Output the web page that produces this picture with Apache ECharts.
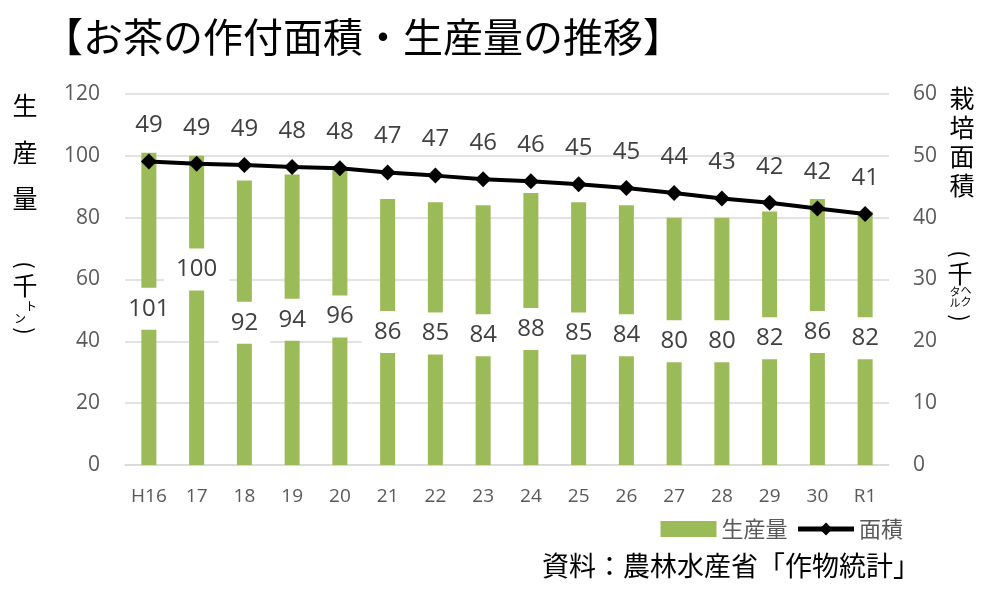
<!DOCTYPE html>
<html><head><meta charset="utf-8">
<script src="https://cdn.jsdelivr.net/npm/echarts@6/dist/echarts.min.js"></script>
<style>html,body{margin:0;padding:0;background:#fff}#c{width:992px;height:596px}</style>
</head><body><div id="c"></div>
<script>
const categories = ['H16','17','18','19','20','21','22','23','24','25','26','27','28','29','30','R1'];
const production = [101,100,92,94,96,86,85,84,88,85,84,80,80,82,86,82];
const area = [49.1,48.7,48.5,48.2,48.0,47.3,46.8,46.2,45.9,45.4,44.8,44.0,43.1,42.4,41.5,40.6];
const leftTicks = [0,120,20];
const rightTicks = [0,60,10];

const FONT = '"Noto Sans CJK JP","Noto Sans",sans-serif';
const NUMFONT = '"Open Sans","Noto Sans",sans-serif';

const chart = echarts.init(document.getElementById('c'));
const barData = production.map((v,i)=> i===1 ? {value:v,label:{offset:[0,-41]}} : v);

function t(ch, x, y, size, rot){
  return {type:'text', x:x, y:y, rotation:rot||0,
    style:{text:ch, font:size+'px '+FONT, fill:'#000', align:'center', verticalAlign:'middle'}};
}

chart.setOption({
  animation:false,
  title:{text:'【お茶の作付面積・生産量の推移】', left:38, top:12, textStyle:{fontFamily:FONT, fontSize:40, fontWeight:'normal', color:'#000'}},
  grid:{left:125, right:103, top:94, bottom:131},
  legend:{right:84, top:513, itemGap:8, textStyle:{fontFamily:FONT, fontSize:22, color:'#595959'},
    lineStyle:{width:5, color:'#000'},
    data:[{name:'生産量', icon:'rect', itemStyle:{color:'#9bbb59'}},
          {name:'面積', lineStyle:{width:5, color:'#000'}, itemStyle:{color:'#000'}}],
    itemWidth:56, itemHeight:16},
  xAxis:{type:'category', data:categories, axisTick:{show:false},
    axisLine:{lineStyle:{color:'#d9d9d9', width:1.5}},
    axisLabel:{interval:0, fontFamily:NUMFONT, fontSize:19, color:'#595959', margin:22}},
  yAxis:[
    {type:'value', min:leftTicks[0], max:leftTicks[1], interval:leftTicks[2],
     axisLine:{show:false}, axisTick:{show:false},
     splitLine:{lineStyle:{color:'#d9d9d9', width:1.5}},
     axisLabel:{fontFamily:NUMFONT, fontSize:21, color:'#595959', margin:25}},
    {type:'value', min:rightTicks[0], max:rightTicks[1], interval:rightTicks[2],
     axisLine:{show:false}, axisTick:{show:false}, splitLine:{show:false},
     axisLabel:{fontFamily:NUMFONT, fontSize:21, color:'#595959', margin:24}}
  ],
  series:[
    {name:'生産量', type:'bar', data:barData, barWidth:15, itemStyle:{color:'#9bbb59'},
     label:{show:true, position:'inside', fontFamily:NUMFONT, fontSize:24, color:'#404040',
       backgroundColor:'#fff', padding:[9,12,9,12]}},
    {name:'面積', type:'line', yAxisIndex:1, data:area, symbol:'diamond', symbolSize:16,
     lineStyle:{color:'#000', width:4}, itemStyle:{color:'#000'}, z:5,
     label:{show:true, position:'top', distance:16, fontFamily:NUMFONT, fontSize:24, color:'#404040',
       formatter:p=>Math.round(p.value)}}
  ],
  graphic:[
    t('生',25,105,25), t('産',25,152,25), t('量',25,198,25),
    t('(',25,265,22,-Math.PI/2), t('千',25,285,25), t('ト',31,306,12), t('ン',20,318,12),
    t(')',25,331,22,-Math.PI/2),
    t('栽',962,98,25), t('培',962,127,25), t('面',962,156,25), t('積',962,185,25),
    t('(',960,254,22,-Math.PI/2), t('千',960,273,25),
    t('タ',955,292,11), t('ヘ',966,290,11), t('ル',955,303,11), t('ク',966,302,11),
    t(')',960,318,22,-Math.PI/2),
    {type:'text', right:72, top:552, style:{text:'資料：農林水産省「作物統計」', font:'27px '+FONT, fill:'#000'}}
  ]
});
</script></body></html>
